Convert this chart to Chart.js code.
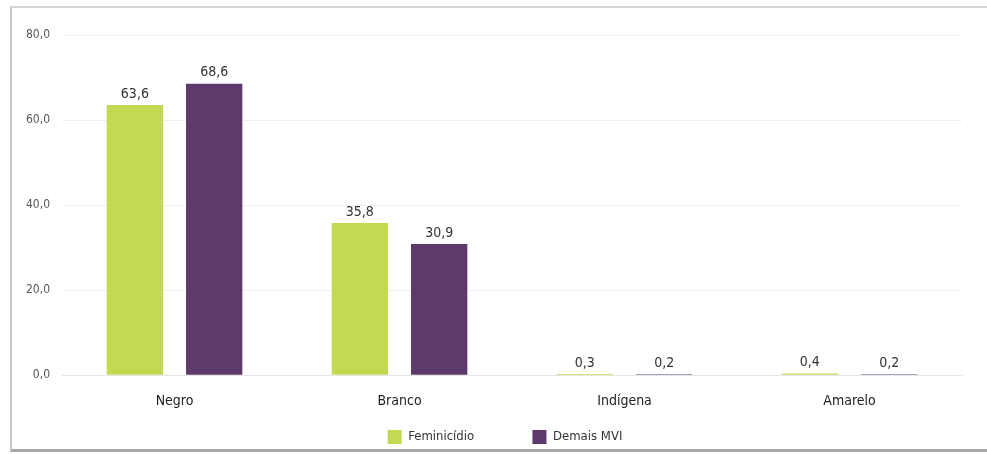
<!DOCTYPE html>
<html>
<head>
<meta charset="utf-8">
<script src="https://cdn.jsdelivr.net/npm/chart.js@4.4.1/dist/chart.umd.min.js"></script>
<style>
  body { margin: 0; background: #fff; }
  #frame {
    position: absolute; left: 10px; top: 6px; width: 990px; height: 446px;
    border-top: 2px solid #d4d4d4; border-left: 2px solid #c8c8c8; border-bottom: 3px solid #a8a8a8;
    box-sizing: border-box;
  }
  #box { position: absolute; left: 2px; top: 8px; width: 975px; height: 438px; }
</style>
</head>
<body>
<div id="frame"><div id="box"><canvas id="chartID"></canvas></div></div>
<script>
var categories = ['Negro', 'Branco', 'Indígena', 'Amarelo'];
var feminicidio = [63.6, 35.8, 0.3, 0.4];
var demaisMVI = [68.6, 30.9, 0.2, 0.2];
var yTicks = [0, 20, 40, 60, 80];

var fontFamily = "'DejaVu Sans Condensed', 'Liberation Sans Narrow', 'Roboto', sans-serif";

function fmt(v) {
    return v.toFixed(1).replace('.', ',');
}

// rótulos de valor acima das barras
var valueLabels = {
    id: 'valueLabels',
    afterDatasetsDraw: function(chart) {
        var ctx = chart.ctx;
        ctx.save();
        ctx.font = '14px ' + fontFamily;
        ctx.fillStyle = '#333';
        ctx.textAlign = 'center';
        ctx.textBaseline = 'bottom';
        chart.data.datasets.forEach(function(ds, i) {
            chart.getDatasetMeta(i).data.forEach(function(bar, j) {
                ctx.fillText(fmt(ds.data[j]), bar.x, bar.y - 4);
            });
        });
        ctx.restore();
    }
};

// desloca a legenda um pouco para a direita
var legendShift = {
    id: 'legendShift',
    afterLayout: function(chart) {
        chart.legend.left += 17;
        chart.legend.right += 17;
    }
};

var myContext = document.getElementById("chartID").getContext('2d');
var myChart = new Chart(myContext, {
    type: 'bar',
    data: {
        labels: categories,
        datasets: [{
            label: 'Feminicídio',
            backgroundColor: '#c5d853',
            data: feminicidio,
        }, {
            label: 'Demais MVI',
            backgroundColor: '#5e3a6c',
            data: demaisMVI,
        }],
    },
    options: {
        responsive: true,
        maintainAspectRatio: false,
        animation: false,
        categoryPercentage: 0.705,
        barPercentage: 0.71,
        layout: { padding: { left: 0, right: 27, top: 0, bottom: 0 } },
        plugins: {
            legend: {
                position: 'bottom',
                labels: {
                    boxWidth: 14,
                    boxHeight: 14,
                    padding: 10,
                    color: '#333',
                    font: { family: fontFamily, size: 13 },
                    generateLabels: function(chart) {
                        var items = Chart.defaults.plugins.legend.labels.generateLabels(chart);
                        // espaço extra entre os itens da legenda
                        items[0].text = items[0].text + '             ';
                        return items;
                    }
                }
            },
            tooltip: { enabled: false }
        },
        scales: {
            x: {
                grid: { display: false },
                border: { color: '#e6e6e6' },
                ticks: { color: '#222', font: { family: fontFamily, size: 14 }, padding: 10 }
            },
            y: {
                min: 0,
                max: 80,
                afterBuildTicks: function(axis) {
                    axis.ticks = yTicks.map(function(v) { return { value: v }; });
                },
                grid: { color: '#efefef', drawTicks: false },
                border: { display: false },
                ticks: {
                    color: '#555',
                    padding: 12,
                    font: { family: fontFamily, size: 12 },
                    callback: function(v) { return fmt(v); }
                }
            }
        }
    },
    plugins: [valueLabels, legendShift]
});
</script>
</body>
</html>
